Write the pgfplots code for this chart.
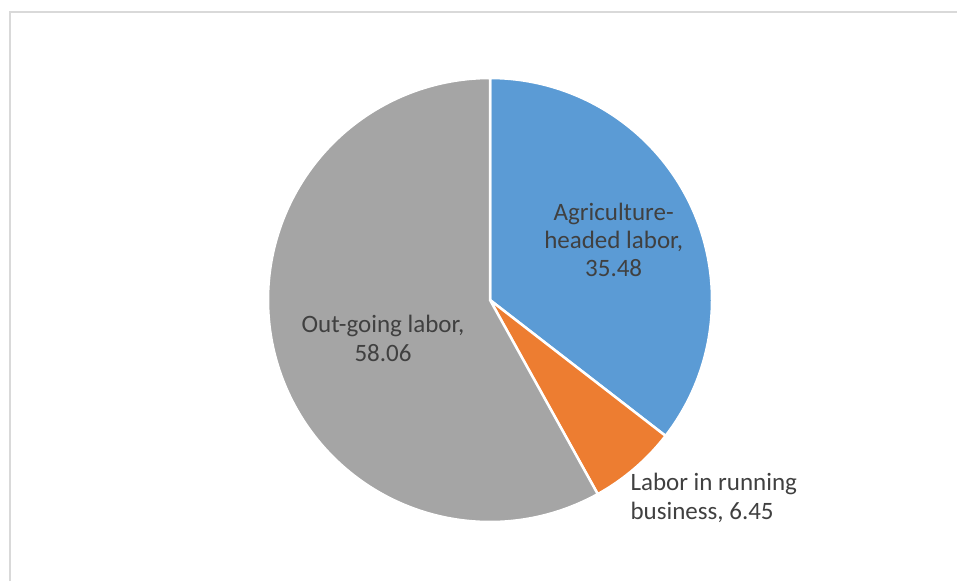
\documentclass[border=0pt]{standalone}
\usepackage{pgfplots}
\usepackage{pgfplotstable}
\pgfplotsset{compat=1.18}
\usepackage{fontspec}
\setmainfont{Carlito}
\definecolor{pieblue}{HTML}{5B9BD5}
\definecolor{pieorange}{HTML}{ED7D31}
\definecolor{piegray}{HTML}{A5A5A5}
\definecolor{labtxt}{HTML}{404040}
\definecolor{framegray}{HTML}{D9D9D9}
\pgfplotstableread{
label value
Agriculture 35.48
Business 6.45
Outgoing 58.06
}\piedata
\begin{document}%
\begin{tikzpicture}
\pgfplotstablegetelem{0}{value}\of\piedata\let\vA\pgfplotsretval
\pgfplotstablegetelem{1}{value}\of\piedata\let\vB\pgfplotsretval
\pgfplotstablegetelem{2}{value}\of\piedata\let\vC\pgfplotsretval
\pgfmathsetmacro\tot{\vA+\vB+\vC}
\pgfmathsetmacro\aA{90}
\pgfmathsetmacro\aB{90-360*\vA/\tot}
\pgfmathsetmacro\aC{\aB-360*\vB/\tot}
\pgfmathsetmacro\aD{-270}
\path[use as bounding box] (0,0) rectangle (957pt,-581pt);
\draw[framegray, line width=2pt] (10pt,-581pt) -- (10pt,-12pt) -- (957pt,-12pt);
\begin{axis}[
  at={(490pt,-300pt)}, anchor=center,
  scale only axis, width=444pt, height=444pt,
  xmin=-1, xmax=1, ymin=-1, ymax=1,
  hide axis, clip=false,
]
\addplot[fill=pieblue, draw=white, line width=2.5pt, domain=\aB:\aA, samples=120, variable=\t]
  ({cos(\t)},{sin(\t)}) -- (axis cs:0,0) -- cycle;
\addplot[fill=pieorange, draw=white, line width=2.5pt, domain=\aC:\aB, samples=40, variable=\t]
  ({cos(\t)},{sin(\t)}) -- (axis cs:0,0) -- cycle;
\addplot[fill=piegray, draw=white, line width=2.5pt, domain=\aD:\aC, samples=200, variable=\t]
  ({cos(\t)},{sin(\t)}) -- (axis cs:0,0) -- cycle;
\node[labtxt, align=center, font=\fontsize{25}{28}\selectfont] at (axis cs:0.557,0.27) {Agriculture-\\headed labor,\\35.48};
\node[labtxt, align=left, font=\fontsize{25}{29}\selectfont] at (axis cs:1.008,-0.892) {Labor in running\\business, 6.45};
\node[labtxt, align=center, font=\fontsize{25}{29}\selectfont] at (axis cs:-0.482,-0.171) {Out-going labor,\\58.06};
\end{axis}
\end{tikzpicture}%
\end{document}
